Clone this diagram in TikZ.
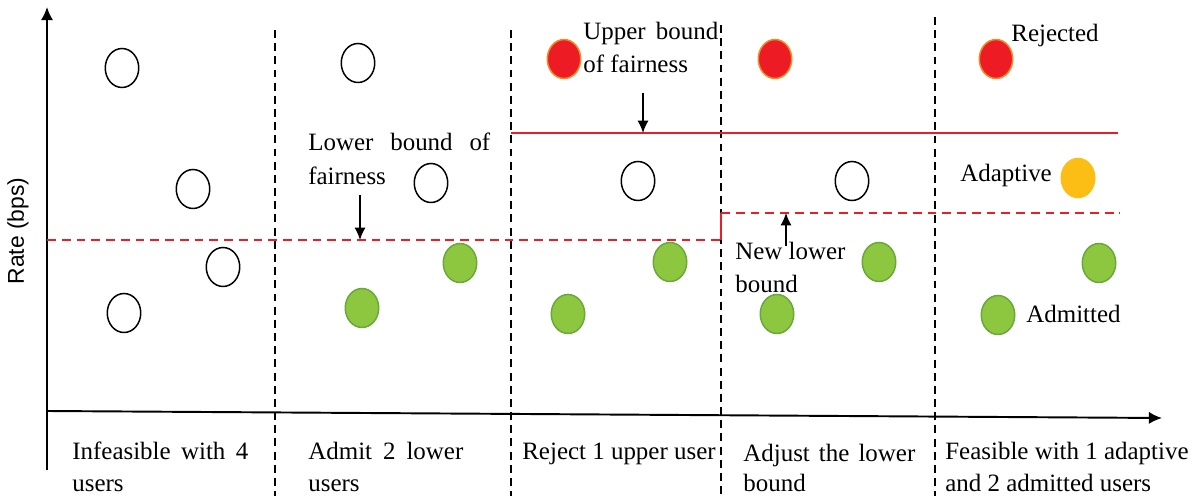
\documentclass[tikz,border=0pt]{standalone}
\usepackage{fontspec}
\setmainfont{Liberation Serif}
\newfontfamily\arialfont{Liberation Sans}
\usetikzlibrary{arrows.meta,shapes.geometric}
\definecolor{rfill}{RGB}{237,28,36}
\definecolor{rbord}{RGB}{240,140,40}
\definecolor{gfill}{RGB}{141,198,63}
\definecolor{gbord}{RGB}{106,168,60}
\definecolor{yfill}{RGB}{252,190,20}
\definecolor{rline}{RGB}{232,30,40}
\begin{document}
\begin{tikzpicture}[x=0.02cm,y=-0.02cm,
  user/.style={ellipse, minimum width=0.67cm, minimum height=0.78cm, inner sep=0, line width=0.85pt},
  idle/.style={user, draw=black, fill=white},
  rej/.style={user, draw=rbord, fill=rfill},
  adm/.style={user, draw=gbord, fill=gfill},
  ada/.style={user, draw=yfill, fill=yfill},
  lbl/.style={anchor=base west, inner sep=0, font=\fontsize{14.2pt}{17pt}\selectfont},
  axis/.style={line width=1.1pt, -{Latex[length=7.5pt,width=7pt]}},
  divider/.style={line width=0.85pt, dash pattern=on 4.5pt off 3pt},
  lowerb/.style={rline, line width=0.85pt, dash pattern=on 5pt off 3.4pt},
  upperb/.style={rline, line width=0.85pt},
  pointer/.style={line width=0.85pt, -{Latex[length=7pt,width=6.3pt]}}
]
\useasboundingbox (0,0) rectangle (1201,496);

% axes
\coordinate (o) at (47,470);
\coordinate (ytop) at (47,7);
\coordinate (xl) at (47,411);
\coordinate (xr) at (1162,418);
\draw[axis] (o) -- (ytop);
\draw[axis] (xl) -- (xr);
\node[rotate=90, inner sep=0, font=\arialfont\fontsize{13pt}{15pt}\selectfont] (ylab) at (18,231) {Rate (bps)};

% dividers
\foreach \x/\t [count=\i] in {275/30, 511/30, 721/25, 935/17} {
  \coordinate (d\i t) at (\x,\t);
  \coordinate (d\i b) at (\x,496);
  \draw[divider] (d\i t) -- (d\i b);
}

% bounds
\coordinate (lb0) at (47,240);
\coordinate (lb1) at (721,240);
\coordinate (lb2) at (721,213);
\coordinate (lb3) at (1120,213);
\draw[lowerb] (lb0) -- (lb1);
\draw[rline, line width=0.85pt] (lb1) -- (lb2);
\draw[lowerb] (lb2) -- (lb3);
\coordinate (ub0) at (511,133);
\coordinate (ub1) at (1118,133);
\draw[upperb] (ub0) -- (ub1);

% column 1
\node[idle] (a1) at (122,68) {};
\node[idle] (a2) at (193,189) {};
\node[idle] (a3) at (223,267) {};
\node[idle] (a4) at (124,313) {};
% column 2
\node[idle] (b1) at (358,63) {};
\node[idle] (b2) at (431,183) {};
\node[adm] (b3) at (460,263) {};
\node[adm] (b4) at (362,308) {};
% column 3
\node[rej] (c1) at (564,59) {};
\node[idle] (c2) at (638,181) {};
\node[adm] (c3) at (670,262) {};
\node[adm] (c4) at (568,314) {};
% column 4
\node[rej] (e1) at (775,59) {};
\node[idle] (e2) at (852,181) {};
\node[adm] (e3) at (879,262) {};
\node[adm] (e4) at (777,314) {};
% column 5
\node[rej] (f1) at (996,59) {};
\node[ada] (f2) at (1078,178) {};
\node[adm] (f3) at (1099,263) {};
\node[adm] (f4) at (998,315) {};

% annotations
\node[lbl] (lbA) at (308,151) {\makebox[3.64cm][s]{Lower bound of}};
\node[lbl] (lbB) at (308,185) {fairness};
\coordinate (lbArrS) at (360,195);
\coordinate (lbArrE) at (360,240);
\draw[pointer] (lbArrS) -- (lbArrE);

\node[lbl] (ubA) at (583,40) {\makebox[2.7cm][s]{Upper bound}};
\node[lbl] (ubB) at (583,73) {of fairness};
\coordinate (ubArrS) at (643,93);
\coordinate (ubArrE) at (643,133);
\draw[pointer] (ubArrS) -- (ubArrE);

\node[lbl] (nlA) at (735,260) {New lower};
\node[lbl] (nlB) at (735,293) {bound};
\coordinate (nlArrS) at (786,246);
\coordinate (nlArrE) at (786,213);
\draw[pointer] (nlArrS) -- (nlArrE);

\node[lbl] (rejT) at (1011,42) {Rejected};
\node[lbl] (adaT) at (960,182) {Adaptive};
\node[lbl] (admT) at (1026,323) {Admitted};

% bottom labels
\node[lbl] (s1a) at (72,460) {\makebox[3.52cm][s]{Infeasible with 4}};
\node[lbl] (s1b) at (72,492) {users};
\node[lbl] (s2a) at (308,460) {\makebox[3.1cm][s]{Admit 2 lower}};
\node[lbl] (s2b) at (308,492) {users};
\node[lbl] (s3a) at (522,460) {Reject 1 upper user};
\node[lbl] (s4a) at (743,462) {\makebox[3.44cm][s]{Adjust the lower}};
\node[lbl] (s4b) at (743,492) {bound};
\node[lbl] (s5a) at (945,460) {Feasible with 1 adaptive};
\node[lbl] (s5b) at (945,492) {and 2 admitted users};
\end{tikzpicture}
\end{document}
